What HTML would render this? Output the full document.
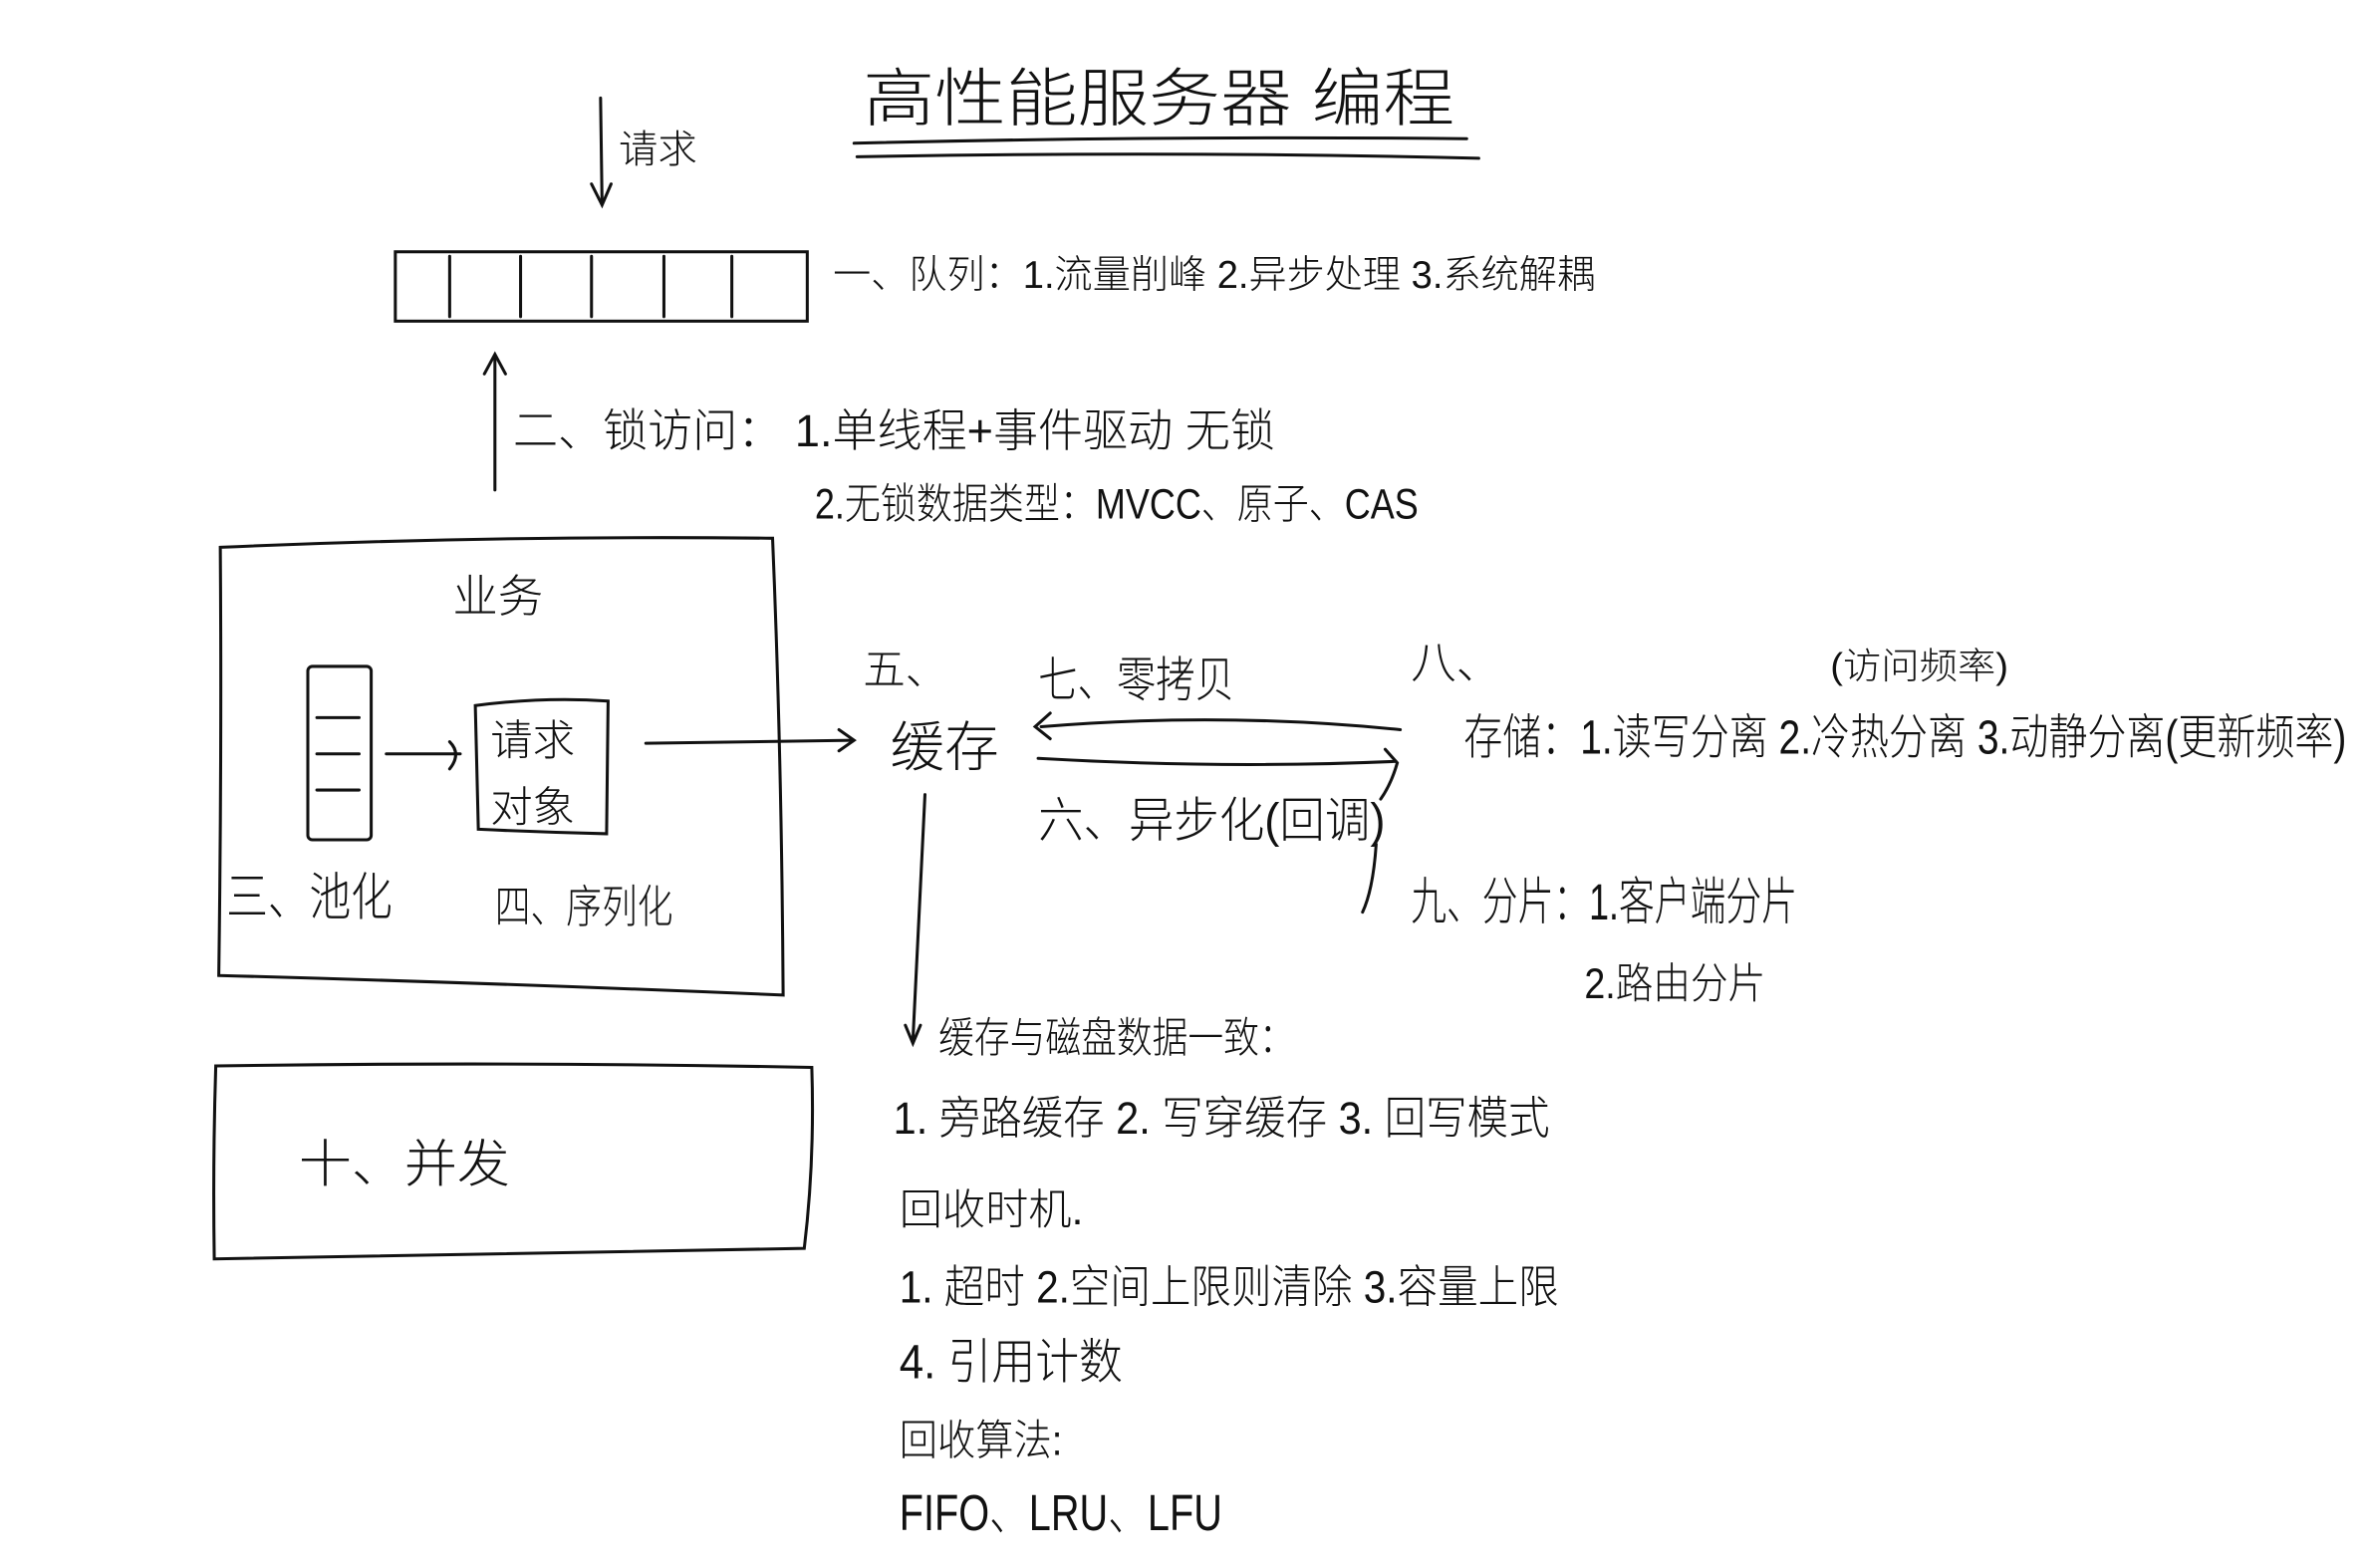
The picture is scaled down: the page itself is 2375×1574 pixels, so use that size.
<!DOCTYPE html>
<html><head><meta charset="utf-8">
<style>
html,body{margin:0;padding:0;background:#fff;}
svg{display:block;}
text{font-family:"Liberation Sans","Noto Sans CJK SC",sans-serif;fill:#111;font-weight:300;}
</style></head>
<body>
<svg width="2375" height="1574" viewBox="0 0 1568 1040" preserveAspectRatio="none" xmlns="http://www.w3.org/2000/svg">
<g fill="none" stroke="#111" stroke-width="2" stroke-linecap="round">
<!-- title underline -->
<path d="M566 95 Q770 90 972 92"/>
<path d="M568 104 Q780 100 980 105"/>
<!-- request arrow -->
<path d="M398 65 L399 135"/><path d="M392 122 L399 136 L405 122"/>
<!-- queue -->
<rect x="262" y="167" width="273" height="46"/>
<path d="M298 170V210M345 170V210M392 170V210M440 170V210M485 170V210"/>
<!-- up arrow -->
<path d="M328 325 L328 236"/><path d="M321 248 L328 235 L335 248"/>
<!-- business box -->
<path d="M146 363 Q330 355 512 357 Q518 500 519 660 Q330 652 145 647 Q147 500 146 363Z"/>
<!-- pool -->
<rect x="204" y="442" width="42" height="115" rx="3"/>
<path d="M210 476H238M210 500H238M210 524H238"/>
<path d="M256 500 L305 500"/><path d="M298 492 Q306 500 298 510"/>
<!-- request object box -->
<path d="M315 468 Q360 462 403 465 L402 553 Q360 552 317 550Z"/>
<!-- arrow to cache -->
<path d="M428 493 Q500 492 565 491"/><path d="M556 484 L566 491 L556 498"/>
<!-- zero copy arrows -->
<path d="M928 484 Q810 472 690 482"/><path d="M696 473 L686 482 L696 490"/>
<path d="M688 503 Q810 510 925 505"/><path d="M918 497 L926 506 Q922 520 915 530"/>
<path d="M912 560 Q910 590 903 605"/>
<!-- cache down arrow -->
<path d="M613 527 L605 690"/><path d="M600 680 L605 692 L610 680"/>
<!-- concurrency box -->
<path d="M143 707 Q340 704 538 708 Q540 770 533 828 Q340 832 142 835 Q141 770 143 707Z"/>
</g>
<text x="572" y="80" font-size="42" textLength="392" lengthAdjust="spacingAndGlyphs">高性能服务器 编程</text>
<text x="410" y="108" font-size="26">请求</text>
<text x="552" y="191" font-size="26" textLength="505" lengthAdjust="spacingAndGlyphs">一、队列：1.流量削峰  2.异步处理  3.系统解耦</text>
<text x="340" y="296" font-size="30" textLength="505" lengthAdjust="spacingAndGlyphs">二、锁访问： 1.单线程+事件驱动 无锁</text>
<text x="540" y="344" font-size="28" textLength="400" lengthAdjust="spacingAndGlyphs">2.无锁数据类型：MVCC、原子、CAS</text>
<text x="300" y="406" font-size="30">业务</text>
<text x="325" y="501" font-size="28">请求</text>
<text x="325" y="545" font-size="28">对象</text>
<text x="150" y="607" font-size="34" textLength="110" lengthAdjust="spacingAndGlyphs">三、池化</text>
<text x="328" y="612" font-size="30" textLength="118" lengthAdjust="spacingAndGlyphs">四、序列化</text>
<text x="572" y="454" font-size="28">五、</text>
<text x="590" y="508" font-size="36">缓存</text>
<text x="688" y="462" font-size="32" textLength="130" lengthAdjust="spacingAndGlyphs">七、零拷贝</text>
<text x="688" y="555" font-size="32" textLength="230" lengthAdjust="spacingAndGlyphs">六、异步化(回调)</text>
<text x="935" y="450" font-size="30">八、</text>
<text x="1213" y="450" font-size="24" textLength="118" lengthAdjust="spacingAndGlyphs">(访问频率)</text>
<text x="970" y="500" font-size="32" textLength="585" lengthAdjust="spacingAndGlyphs">存储：1.读写分离 2.冷热分离 3.动静分离(更新频率)</text>
<text x="935" y="610" font-size="34" textLength="256" lengthAdjust="spacingAndGlyphs">九、分片：1.客户端分片</text>
<text x="1050" y="662" font-size="28" textLength="120" lengthAdjust="spacingAndGlyphs">2.路由分片</text>
<text x="622" y="698" font-size="28" textLength="236" lengthAdjust="spacingAndGlyphs">缓存与磁盘数据一致：</text>
<text x="592" y="752" font-size="30" textLength="435" lengthAdjust="spacingAndGlyphs">1. 旁路缓存  2. 写穿缓存  3. 回写模式</text>
<text x="596" y="812" font-size="28" textLength="122" lengthAdjust="spacingAndGlyphs">回收时机.</text>
<text x="596" y="864" font-size="30" textLength="437" lengthAdjust="spacingAndGlyphs">1. 超时 2.空间上限则清除 3.容量上限</text>
<text x="596" y="914" font-size="32" textLength="148" lengthAdjust="spacingAndGlyphs">4. 引用计数</text>
<text x="596" y="965" font-size="28" textLength="108" lengthAdjust="spacingAndGlyphs">回收算法:</text>
<text x="596" y="1015" font-size="34" textLength="214" lengthAdjust="spacingAndGlyphs">FIFO、LRU、LFU</text>
<text x="198" y="784" font-size="34" textLength="140" lengthAdjust="spacingAndGlyphs">十、并发</text>
</svg>
</body></html>
